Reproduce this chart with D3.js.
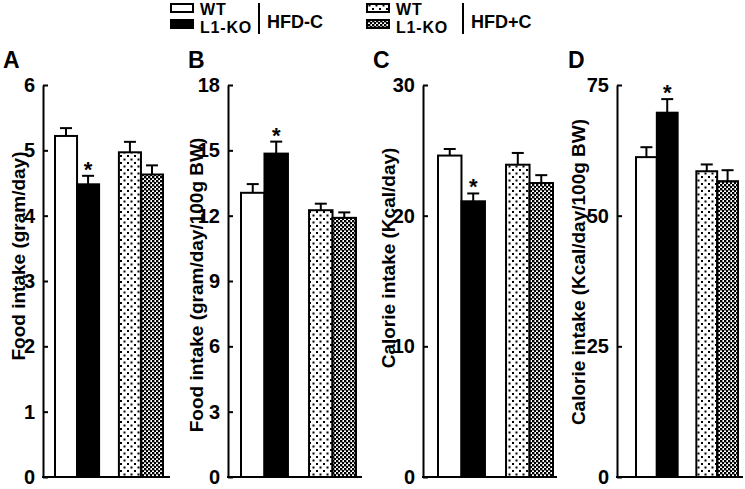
<!DOCTYPE html>
<html><head><meta charset="utf-8">
<script src="https://cdn.jsdelivr.net/npm/d3@7"></script>
<style>
html,body{margin:0;padding:0;background:#fff;}
svg{display:block;}
svg text{font-family:"Liberation Sans",Arial,sans-serif;font-weight:bold;fill:#000;}
</style></head>
<body>
<svg id="chart" width="745" height="489"></svg>
<script>
// ---- data ----
const groups = ["WT HFD-C", "L1-KO HFD-C", "WT HFD+C", "L1-KO HFD+C"];
const diets = ["HFD-C", "HFD+C"];
const genotypes = ["WT", "L1-KO"];
const panelLetters = ["A", "B", "C", "D"];
const yTitles = ["Food intake (gram/day)", "Food intake (gram/day/100g BW)", "Calorie intake (Kcal/day)", "Calorie intake (Kcal/day/100g BW)"];
const foodIntake = [5.22, 4.48, 4.97, 4.63];
const foodIntakeErr = [0.12, 0.13, 0.16, 0.14];
const foodIntakeBW = [13.05, 14.85, 12.25, 11.9];
const foodIntakeBWErr = [0.4, 0.55, 0.3, 0.25];
const calorieIntake = [24.6, 21.1, 23.9, 22.5];
const calorieIntakeErr = [0.5, 0.6, 0.9, 0.6];
const calorieIntakeBW = [61.2, 69.7, 58.5, 56.6];
const calorieIntakeBWErr = [1.9, 2.6, 1.3, 2.1];
const ticksA = [0, 1, 2, 3, 4, 5, 6];
const ticksB = [0, 3, 6, 9, 12, 15, 18];
const ticksC = [0, 10, 20, 30];
const ticksD = [0, 25, 50, 75];
const significant = [false, true, false, false];

// ---- layout ----
const svg = d3.select("#chart");
const defs = svg.append("defs");
const dots = defs.append("pattern").attr("id", "dots").attr("patternUnits", "userSpaceOnUse")
  .attr("width", 7).attr("height", 7);
dots.append("rect").attr("width", 7).attr("height", 7).attr("fill", "#fff");
dots.append("rect").attr("x", 1).attr("y", 1).attr("width", 2).attr("height", 2).attr("fill", "#000");
dots.append("rect").attr("x", 4.5).attr("y", 4.5).attr("width", 2).attr("height", 2).attr("fill", "#000");
const check = defs.append("pattern").attr("id", "check").attr("patternUnits", "userSpaceOnUse")
  .attr("width", 4).attr("height", 4);
check.append("rect").attr("width", 4).attr("height", 4).attr("fill", "#fff");
check.append("rect").attr("x", 0).attr("y", 0).attr("width", 2.4).attr("height", 2.4).attr("fill", "#000");
check.append("rect").attr("x", 2).attr("y", 2).attr("width", 2.4).attr("height", 2.4).attr("fill", "#000");
const fills = ["#fff", "#000", "url(#dots)", "url(#check)"];

const panels = [
  {vals: foodIntake, errs: foodIntakeErr, ticks: ticksA, axisX: 43, barL: 55, barR: 163, end: 170, titleX: 18, titleY: 256, letterX: 3},
  {vals: foodIntakeBW, errs: foodIntakeBWErr, ticks: ticksB, axisX: 228, barL: 241, barR: 356, end: 362, titleX: 196, titleY: 285, letterX: 188},
  {vals: calorieIntake, errs: calorieIntakeErr, ticks: ticksC, axisX: 423, barL: 438, barR: 553, end: 557, titleX: 388, titleY: 258, letterX: 373},
  {vals: calorieIntakeBW, errs: calorieIntakeBWErr, ticks: ticksD, axisX: 617, barL: 636, barR: 738, end: 743, titleX: 578, titleY: 272, letterX: 568}
];
const yBottom = 477, yTop = 85;

panels.forEach((p, i) => {
  const g = svg.append("g");
  const y = d3.scaleLinear().domain([0, d3.max(p.ticks)]).range([yBottom, yTop]);
  const xOuter = d3.scaleBand().domain(diets).range([p.barL, p.barR]).paddingInner(0.31).paddingOuter(0);
  const xInner = d3.scaleBand().domain(genotypes).range([0, xOuter.bandwidth()]);
  const xPos = k => xOuter(diets[Math.floor(k / 2)]) + xInner(genotypes[k % 2]);
  const bw = xInner.bandwidth();

  // bars
  g.selectAll("rect.bar").data(p.vals).join("rect").attr("class", "bar")
    .attr("x", (d, k) => xPos(k)).attr("y", d => y(d))
    .attr("width", bw).attr("height", d => yBottom - y(d))
    .attr("fill", (d, k) => fills[k]).attr("stroke", "#000").attr("stroke-width", 2);
  // error bars
  p.vals.forEach((v, k) => {
    const cx = xPos(k) + bw / 2;
    const ye = y(v + p.errs[k]);
    g.append("line").attr("x1", cx).attr("x2", cx).attr("y1", y(v)).attr("y2", ye)
      .attr("stroke", "#000").attr("stroke-width", 2);
    g.append("line").attr("x1", cx - 6).attr("x2", cx + 6).attr("y1", ye).attr("y2", ye)
      .attr("stroke", "#000").attr("stroke-width", 2);
    if (significant[k]) {
      g.append("text").attr("x", cx).attr("y", ye + 1).attr("text-anchor", "middle")
        .style("font-size", "22px").text("*");
    }
  });

  // y axis (inward ticks)
  const ax = g.append("g").attr("transform", `translate(${p.axisX},0)`)
    .call(d3.axisLeft(y).tickValues(p.ticks).tickSizeInner(-5).tickSizeOuter(0).tickPadding(8).tickFormat(d3.format("d")));
  ax.attr("font-size", null).attr("font-family", null);
  ax.select(".domain").attr("stroke-width", 2);
  ax.selectAll(".tick line").attr("stroke-width", 2);
  ax.selectAll(".tick text").style("font-size", "20px").attr("fill", "#000");
  // baseline
  g.append("line").attr("x1", p.axisX - 1).attr("x2", p.end).attr("y1", yBottom).attr("y2", yBottom)
    .attr("stroke", "#000").attr("stroke-width", 2);

  // y title
  g.append("text").attr("transform", `translate(${p.titleX},${p.titleY}) rotate(-90)`)
    .attr("text-anchor", "middle").attr("dominant-baseline", "central").style("font-size", "19px").text(yTitles[i]);
  // panel letter
  g.append("text").attr("x", p.letterX).attr("y", 68).style("font-size", "23px").text(panelLetters[i]);
});

// ---- legend ----
const legends = [
  {x: 171, fills: [fills[0], fills[1]], diet: diets[0], barX: 259},
  {x: 367, fills: [fills[2], fills[3]], diet: diets[1], barX: 463}
];
legends.forEach(l => {
  const g = svg.append("g");
  genotypes.forEach((gt, k) => {
    g.append("rect").attr("x", l.x).attr("y", k === 0 ? 4 : 20).attr("width", 22).attr("height", 8)
      .attr("fill", l.fills[k]).attr("stroke", "#000").attr("stroke-width", 2);
    g.append("text").attr("x", l.x + 29).attr("y", k === 0 ? 15 : 33).style("font-size", "16px")
      .style("letter-spacing", "0.8px").text(gt);
  });
  g.append("line").attr("x1", l.barX).attr("x2", l.barX).attr("y1", 3).attr("y2", 34)
    .attr("stroke", "#000").attr("stroke-width", 2);
  g.append("text").attr("x", l.barX + 8).attr("y", 28).style("font-size", "18px").text(l.diet);
});
</script>
</body></html>
